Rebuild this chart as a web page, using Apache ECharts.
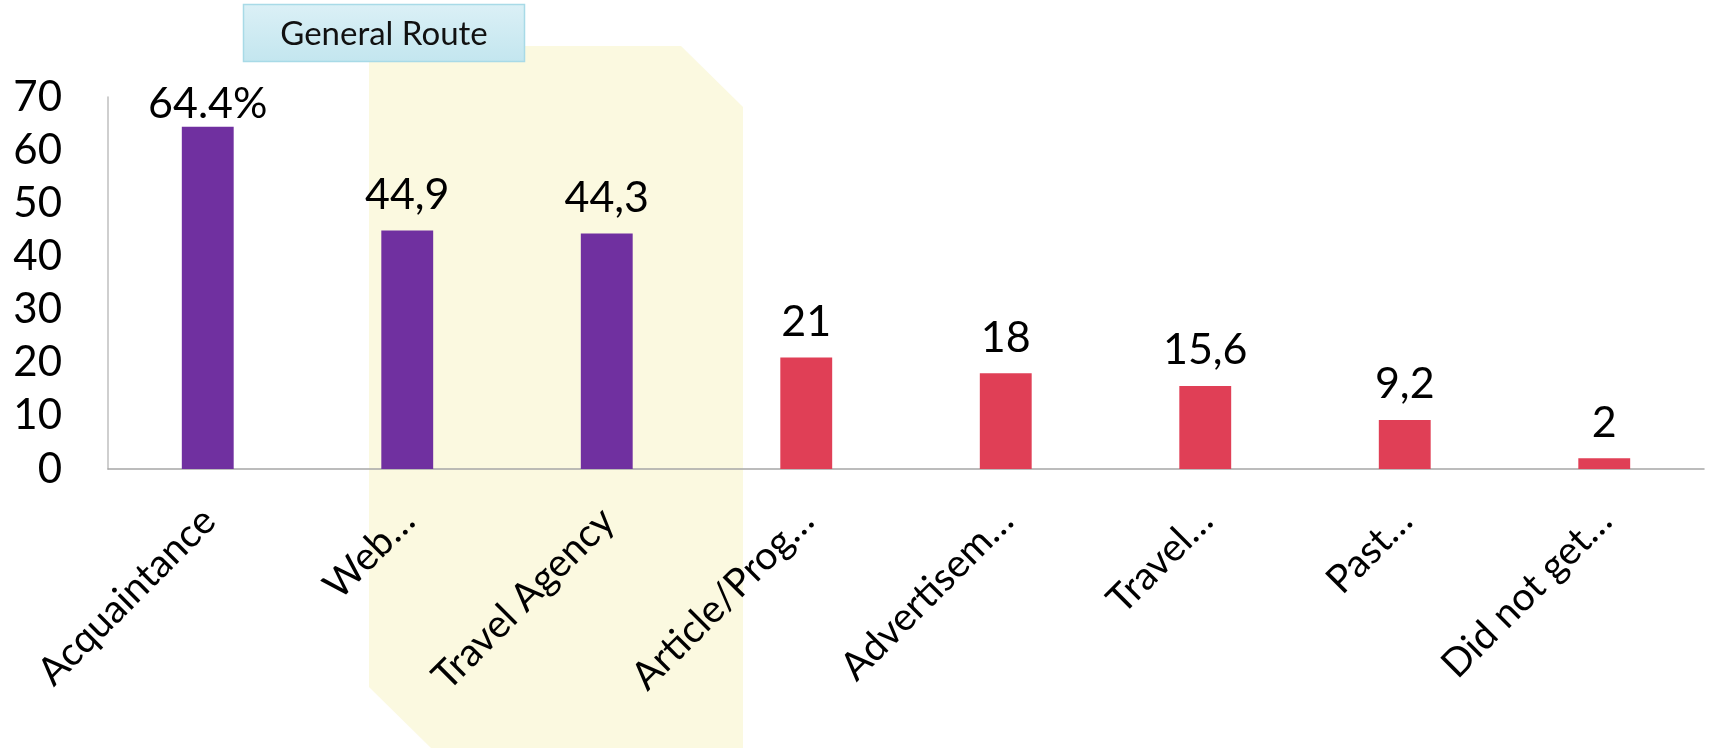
<!DOCTYPE html>
<html>
<head>
<meta charset="utf-8">
<script src="https://cdn.jsdelivr.net/npm/echarts@6/dist/echarts.min.js"></script>
<style>
html,body{margin:0;padding:0;background:#fff;}
#chart{width:1711px;height:748px;}
</style>
</head>
<body>
<div id="chart"></div>
<script>
// ---- data ----
const categories = ['Acquaintance', 'Web…', 'Travel Agency', 'Article/Prog…', 'Advertisem…', 'Travel…', 'Past…', 'Did not get…'];
const values = [64.4, 44.9, 44.3, 21, 18, 15.6, 9.2, 2];
const valueLabels = ['64.4%', '44,9', '44,3', '21', '18', '15,6', '9,2', '2'];
const groups = ['general', 'general', 'general', 'other', 'other', 'other', 'other', 'other'];
const yMin = 0, yMax = 70, yStep = 10;
const boxTitle = 'General Route';

// ---- styles ----
const groupColor = { general: '#7030A0', other: '#E03F56' };
const FONT = 'Lato, "Open Sans", sans-serif';

const chart = echarts.init(document.getElementById('chart'), null, { renderer: 'canvas' });

const option = {
  animation: false,
  backgroundColor: '#ffffff',
  grid: { left: 108, right: 7, top: 97, bottom: 279, containLabel: false },
  xAxis: {
    type: 'category',
    data: categories,
    boundaryGap: true,
    axisLine: { show: true, lineStyle: { color: '#A6A6A6', width: 1.5 } },
    axisTick: { show: false },
    axisLabel: {
      rotate: 45,
      interval: 0,
      align: 'right',
      verticalAlign: 'top',
      margin: 19,
      padding: [0, 18, 0, 0],
      fontFamily: FONT,
      fontSize: 39,
      color: '#000000'
    },
    splitLine: { show: false }
  },
  yAxis: {
    type: 'value',
    min: yMin,
    max: yMax,
    interval: yStep,
    axisLine: { show: true, lineStyle: { color: '#BFBFBF', width: 1.5 } },
    axisTick: { show: false },
    splitLine: { show: false },
    axisLabel: {
      margin: 46,
      fontFamily: FONT,
      fontSize: 42,
      color: '#000000'
    }
  },
  series: [{
    type: 'bar',
    z: 3,
    barWidth: '26%',
    data: values.map((v, i) => ({
      value: v,
      itemStyle: { color: groupColor[groups[i]] },
      // the top label is kept inside the plot, so it sits closer to its bar
      label: { distance: v > 60 ? 1 : 14 }
    })),
    label: {
      show: true,
      position: 'top',
      fontFamily: FONT,
      fontSize: 43,
      color: '#000000',
      formatter: p => valueLabels[p.dataIndex]
    }
  }],
  graphic: [
    {
      type: 'polygon',
      z: -10,
      silent: true,
      shape: { points: [[369, 46], [681, 46], [743, 107], [743, 748], [431, 748], [369, 687]] },
      style: { fill: '#FBF9E0' }
    },
    {
      type: 'group',
      z: 20,
      children: [
        {
          type: 'rect',
          shape: { x: 243.5, y: 4.5, width: 281, height: 57 },
          style: {
            fill: new echarts.graphic.LinearGradient(0, 0, 0, 1, [
              { offset: 0, color: '#DBF0F6' },
              { offset: 1, color: '#C3E6EF' }
            ]),
            stroke: '#A8DAE7',
            lineWidth: 1.5
          }
        },
        {
          type: 'text',
          x: 384, y: 34,
          style: {
            text: boxTitle,
            fontFamily: FONT,
            fontSize: 33,
            fill: '#111111',
            align: 'center',
            verticalAlign: 'middle'
          }
        }
      ]
    }
  ]
};

chart.setOption(option);
</script>
</body>
</html>
